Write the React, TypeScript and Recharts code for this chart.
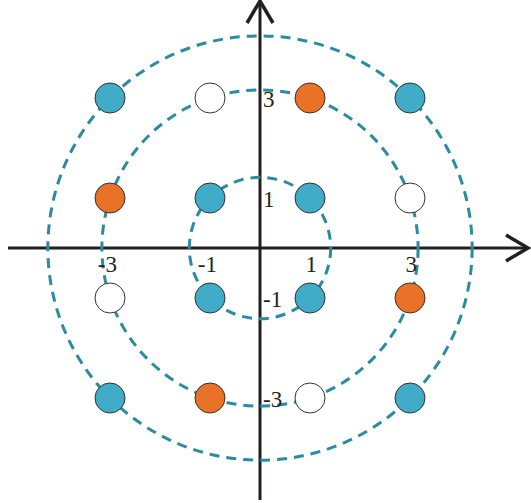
import React from 'react';
import { ScatterChart, Scatter, XAxis, YAxis, ReferenceLine } from 'recharts';

// 16-QAM constellation
const bluePoints = [
  { x: -3, y: 3 }, { x: 3, y: 3 },
  { x: -1, y: 1 }, { x: 1, y: 1 },
  { x: -1, y: -1 }, { x: 1, y: -1 },
  { x: -3, y: -3 }, { x: 3, y: -3 },
];
const orangePoints = [
  { x: 1, y: 3 }, { x: -3, y: 1 }, { x: 3, y: -1 }, { x: -1, y: -3 },
];
const whitePoints = [
  { x: -1, y: 3 }, { x: 3, y: 1 }, { x: -3, y: -1 }, { x: 1, y: -3 },
];

// ring radii: sqrt(2), sqrt(10), sqrt(18)
const ringRadii = [1.414, 3.162, 4.243];

const xTicks = [-3, -1, 1, 3];
const xTickLabels = ['-3', '-1', '1', '3'];
const yTicks = [3, 1, -1, -3];
const yTickLabels = ['3', '1', '-1', '-3'];

const W = 531;
const H = 503;
const OX = 260;
const OY = 248;
const UNIT = 50;

const ringData = ringRadii.map((r) => ({ x: 0, y: 0, radius: r }));
const xLabelData = xTicks.map((v, i) => ({ x: v, y: 0, label: xTickLabels[i] }));
const yLabelData = yTicks.map((v, i) => ({ x: 0, y: v, label: yTickLabels[i] }));

const FONT = '"Liberation Serif", "Times New Roman", serif';
const AXIS = '#231f20';

const Ring = (p: any) => (
  <circle cx={p.cx} cy={p.cy} r={p.payload.radius * UNIT} fill="none"
    stroke="#2a8ba1" strokeWidth={3} strokeDasharray="10 7" />
);

const dot = (fill: string) => (p: any) => (
  <circle cx={p.cx} cy={p.cy} r={15} fill={fill} stroke="#333" strokeWidth={1} />
);

const arrowLine = (p: any) => {
  const { x1, y1, x2, y2 } = p;
  const len = Math.hypot(x2 - x1, y2 - y1);
  const ux = (x2 - x1) / len;
  const uy = (y2 - y1) / len;
  const back = 22;
  const half = 13;
  const bx = x2 - ux * back;
  const by = y2 - uy * back;
  return (
    <g>
      <line x1={x1} y1={y1} x2={x2} y2={y2} stroke={AXIS} strokeWidth={3} />
      <path
        d={`M${bx - uy * half},${by + ux * half} L${x2},${y2} L${bx + uy * half},${by - ux * half}`}
        fill="none" stroke={AXIS} strokeWidth={3.5} strokeLinejoin="miter"
      />
    </g>
  );
};

const XLabel = (p: any) => (
  <text x={p.cx + 7} y={p.cy + 24} textAnchor="end" fontFamily={FONT} fontSize={23} fill="#231f20">
    {p.payload.label}
  </text>
);

const YLabel = (p: any) => (
  <text x={p.cx + 3} y={p.cy + 9} textAnchor="start" fontFamily={FONT} fontSize={23} fill="#231f20">
    {p.payload.label}
  </text>
);

const App = () => {
  return (
    <div style={{ position: 'fixed', left: 0, top: 0, width: W, height: H, background: '#fff' }}>
      <ScatterChart width={W} height={H} margin={{ top: 0, right: 0, bottom: 0, left: 0 }}>
        <XAxis type="number" dataKey="x" hide allowDataOverflow
          domain={[-OX / UNIT, (W - OX) / UNIT]} />
        <YAxis type="number" dataKey="y" hide allowDataOverflow
          domain={[-(H - OY) / UNIT, OY / UNIT]} />
        <Scatter data={ringData} shape={Ring} isAnimationActive={false} />
        <ReferenceLine
          segment={[{ x: (8 - OX) / UNIT, y: 0 }, { x: (528 - OX) / UNIT, y: 0 }]}
          shape={arrowLine} ifOverflow="visible"
        />
        <ReferenceLine
          segment={[{ x: 0, y: (OY - 500) / UNIT }, { x: 0, y: (OY - 1) / UNIT }]}
          shape={arrowLine} ifOverflow="visible"
        />
        <Scatter data={bluePoints} shape={dot('#41acc8')} isAnimationActive={false} />
        <Scatter data={orangePoints} shape={dot('#e97128')} isAnimationActive={false} />
        <Scatter data={whitePoints} shape={dot('#ffffff')} isAnimationActive={false} />
        <Scatter data={xLabelData} shape={XLabel} isAnimationActive={false} />
        <Scatter data={yLabelData} shape={YLabel} isAnimationActive={false} />
      </ScatterChart>
    </div>
  );
};

export default App;
